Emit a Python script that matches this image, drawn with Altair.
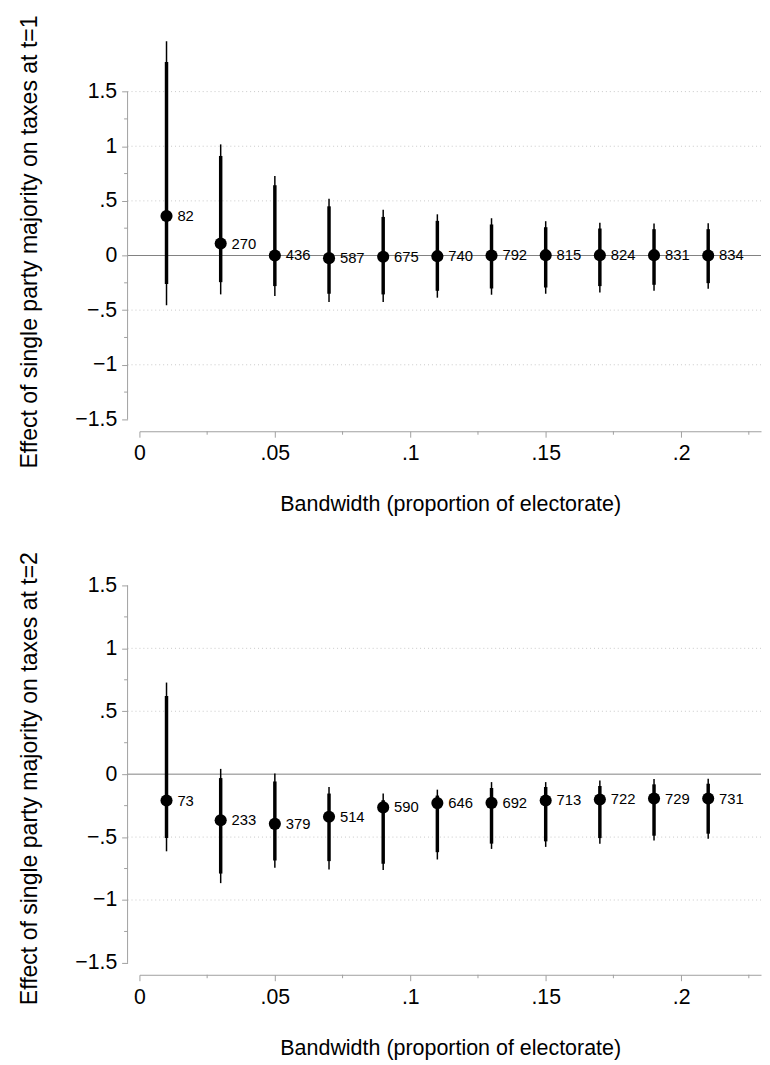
import altair as alt
import pandas as pd

# ---------------- data ----------------
bandwidth = [0.01, 0.03, 0.05, 0.07, 0.09, 0.11, 0.13, 0.15, 0.17, 0.19, 0.21]

est_t1 = [0.362, 0.109, 0.0, -0.024, -0.012, -0.006, 0.0, 0.003, 0.003, 0.003, 0.0]
hi95_t1 = [1.96, 1.017, 0.727, 0.519, 0.419, 0.377, 0.341, 0.314, 0.299, 0.293, 0.296]
hi90_t1 = [1.77, 0.911, 0.643, 0.45, 0.353, 0.317, 0.284, 0.259, 0.247, 0.241, 0.241]
lo90_t1 = [-0.26, -0.244, -0.28, -0.35, -0.356, -0.323, -0.302, -0.293, -0.28, -0.268, -0.253]
lo95_t1 = [-0.455, -0.356, -0.371, -0.425, -0.425, -0.386, -0.359, -0.35, -0.338, -0.323, -0.305]
n_t1 = [82, 270, 436, 587, 675, 740, 792, 815, 824, 831, 834]

est_t2 = [-0.21, -0.366, -0.395, -0.338, -0.264, -0.23, -0.228, -0.209, -0.201, -0.194, -0.194]
hi95_t2 = [0.728, 0.042, 0.005, -0.102, -0.154, -0.123, -0.063, -0.063, -0.05, -0.039, -0.037]
hi90_t2 = [0.621, -0.031, -0.058, -0.154, -0.207, -0.17, -0.11, -0.102, -0.094, -0.081, -0.076]
lo90_t2 = [-0.508, -0.79, -0.686, -0.691, -0.712, -0.62, -0.552, -0.534, -0.508, -0.489, -0.473]
lo95_t2 = [-0.613, -0.866, -0.743, -0.757, -0.762, -0.678, -0.594, -0.578, -0.552, -0.528, -0.513]
n_t2 = [73, 233, 379, 514, 590, 646, 692, 713, 722, 729, 731]

x_major = [0, 0.05, 0.1, 0.15, 0.2]
x_minor = [0.025, 0.075, 0.125, 0.175, 0.225]
y_major = [-1.5, -1, -0.5, 0, 0.5, 1, 1.5]
y_minor = [-1.25, -0.75, -0.25, 0.25, 0.75, 1.25]
y_axis_extent = [-1.5, 1.5]
zero_line = [0]

x_title = "Bandwidth (proportion of electorate)"
y_title_t1 = "Effect of single party majority on taxes at t=1"
y_title_t2 = "Effect of single party majority on taxes at t=2"

# ---------------- style ----------------
FONT = "Liberation Sans"
AXIS_GRAY = "#a0a0a0"
GRID_GRAY = "#c8c8c8"
ZERO_GRAY = "#808080"
W = 629
X_MAX = 0.2295
OFF = 12
MAJ = 6
MIN = 3.5

LABEL_EXPR = "replace(format(datum.value, ''), '0.', '.')"


def panel(est, lo95, hi95, lo90, hi90, n, ytitle, ydom, H, grid_vals, title_y):
    df = pd.DataFrame(dict(bw=bandwidth, est=est, lo95=lo95, hi95=hi95,
                           lo90=lo90, hi90=hi90, n=[str(v) for v in n]))
    xs = alt.Scale(domain=[0, X_MAX], nice=False, zero=False)
    ys = alt.Scale(domain=ydom, nice=False, zero=False)
    xaxis = alt.Axis(values=x_major, title=x_title, offset=OFF, tickSize=MAJ,
                     labelPadding=6, domainColor=AXIS_GRAY, tickColor=AXIS_GRAY,
                     domainWidth=1, tickWidth=1, grid=False, labelExpr=LABEL_EXPR,
                     labelFontSize=21.5, titleFontSize=21.7, titlePadding=30,
                     labelFlush=False, labelOverlap=False)
    yaxis = alt.Axis(values=y_major, title=ytitle, offset=OFF, domain=False,
                     tickSize=MAJ, tickColor=AXIS_GRAY, tickWidth=1,
                     labelPadding=5, grid=False, labelExpr=LABEL_EXPR,
                     labelFontSize=21.5, titleFontSize=23.3, titlePadding=34,
                     titleY=title_y, labelFlush=False, labelOverlap=False)
    X = lambda f: alt.X(f, type="quantitative", scale=xs, axis=xaxis)
    Y = lambda f: alt.Y(f, type="quantitative", scale=ys, axis=yaxis)

    grid = alt.Chart(pd.DataFrame({"g": grid_vals})).mark_rule(
        color=GRID_GRAY, strokeDash=[1, 3], strokeWidth=1
    ).encode(y=Y("g"), x=alt.value(-OFF), x2=alt.value(W))

    zero = alt.Chart(pd.DataFrame({"z": zero_line})).mark_rule(
        color=ZERO_GRAY, strokeWidth=1
    ).encode(y=Y("z"), x=alt.value(-OFF), x2=alt.value(W))

    ydom_line = alt.Chart(pd.DataFrame({"a": [y_axis_extent[0]], "b": [y_axis_extent[1]]})).mark_rule(
        color=AXIS_GRAY, strokeWidth=1
    ).encode(y=Y("a"), y2="b", x=alt.value(-OFF))

    yminor = alt.Chart(pd.DataFrame({"m": y_minor})).mark_rule(
        color=AXIS_GRAY, strokeWidth=1
    ).encode(y=Y("m"), x=alt.value(-OFF), x2=alt.value(-OFF - MIN))

    xminor = alt.Chart(pd.DataFrame({"mx": x_minor})).mark_rule(
        color=AXIS_GRAY, strokeWidth=1
    ).encode(x=X("mx"), y=alt.value(H + OFF), y2=alt.value(H + OFF + MIN))

    base = alt.Chart(df)
    thin = base.mark_rule(color="black", strokeWidth=1.5).encode(
        x=X("bw"), y=Y("lo95"), y2="hi95")
    thick = base.mark_rule(color="black", strokeWidth=3.5).encode(
        x=X("bw"), y=Y("lo90"), y2="hi90")
    dots = base.mark_circle(color="black", opacity=1, size=150).encode(
        x=X("bw"), y=Y("est"))
    labels = base.mark_text(align="left", baseline="middle", dx=11,
                            fontSize=15, font=FONT, color="black").encode(
        x=X("bw"), y=Y("est"), text="n:N")

    return alt.layer(grid, zero, ydom_line, yminor, xminor, thin, thick, dots, labels
                     ).properties(width=W, height=H)


top = panel(est_t1, lo95_t1, hi95_t1, lo90_t1, hi90_t1, n_t1, y_title_t1,
            [-1.5, 2.0], 387, [-1, -0.5, 0.5, 1, 1.5], 207)
bottom = panel(est_t2, lo95_t2, hi95_t2, lo90_t2, hi90_t2, n_t2, y_title_t2,
               [-1.5, 1.5], 382, [-1, -0.5, 0.5, 1], 195)

chart = alt.vconcat(top, bottom, spacing=35).properties(
    padding={"left": 9, "top": 0, "right": 0, "bottom": 0}
).configure_view(stroke=None).configure_axis(
    labelFont=FONT, titleFont=FONT, labelColor="black", titleColor="black",
    titleFontWeight="normal"
)

chart.save("out.html", embed_options={"renderer": "svg", "actions": False})
